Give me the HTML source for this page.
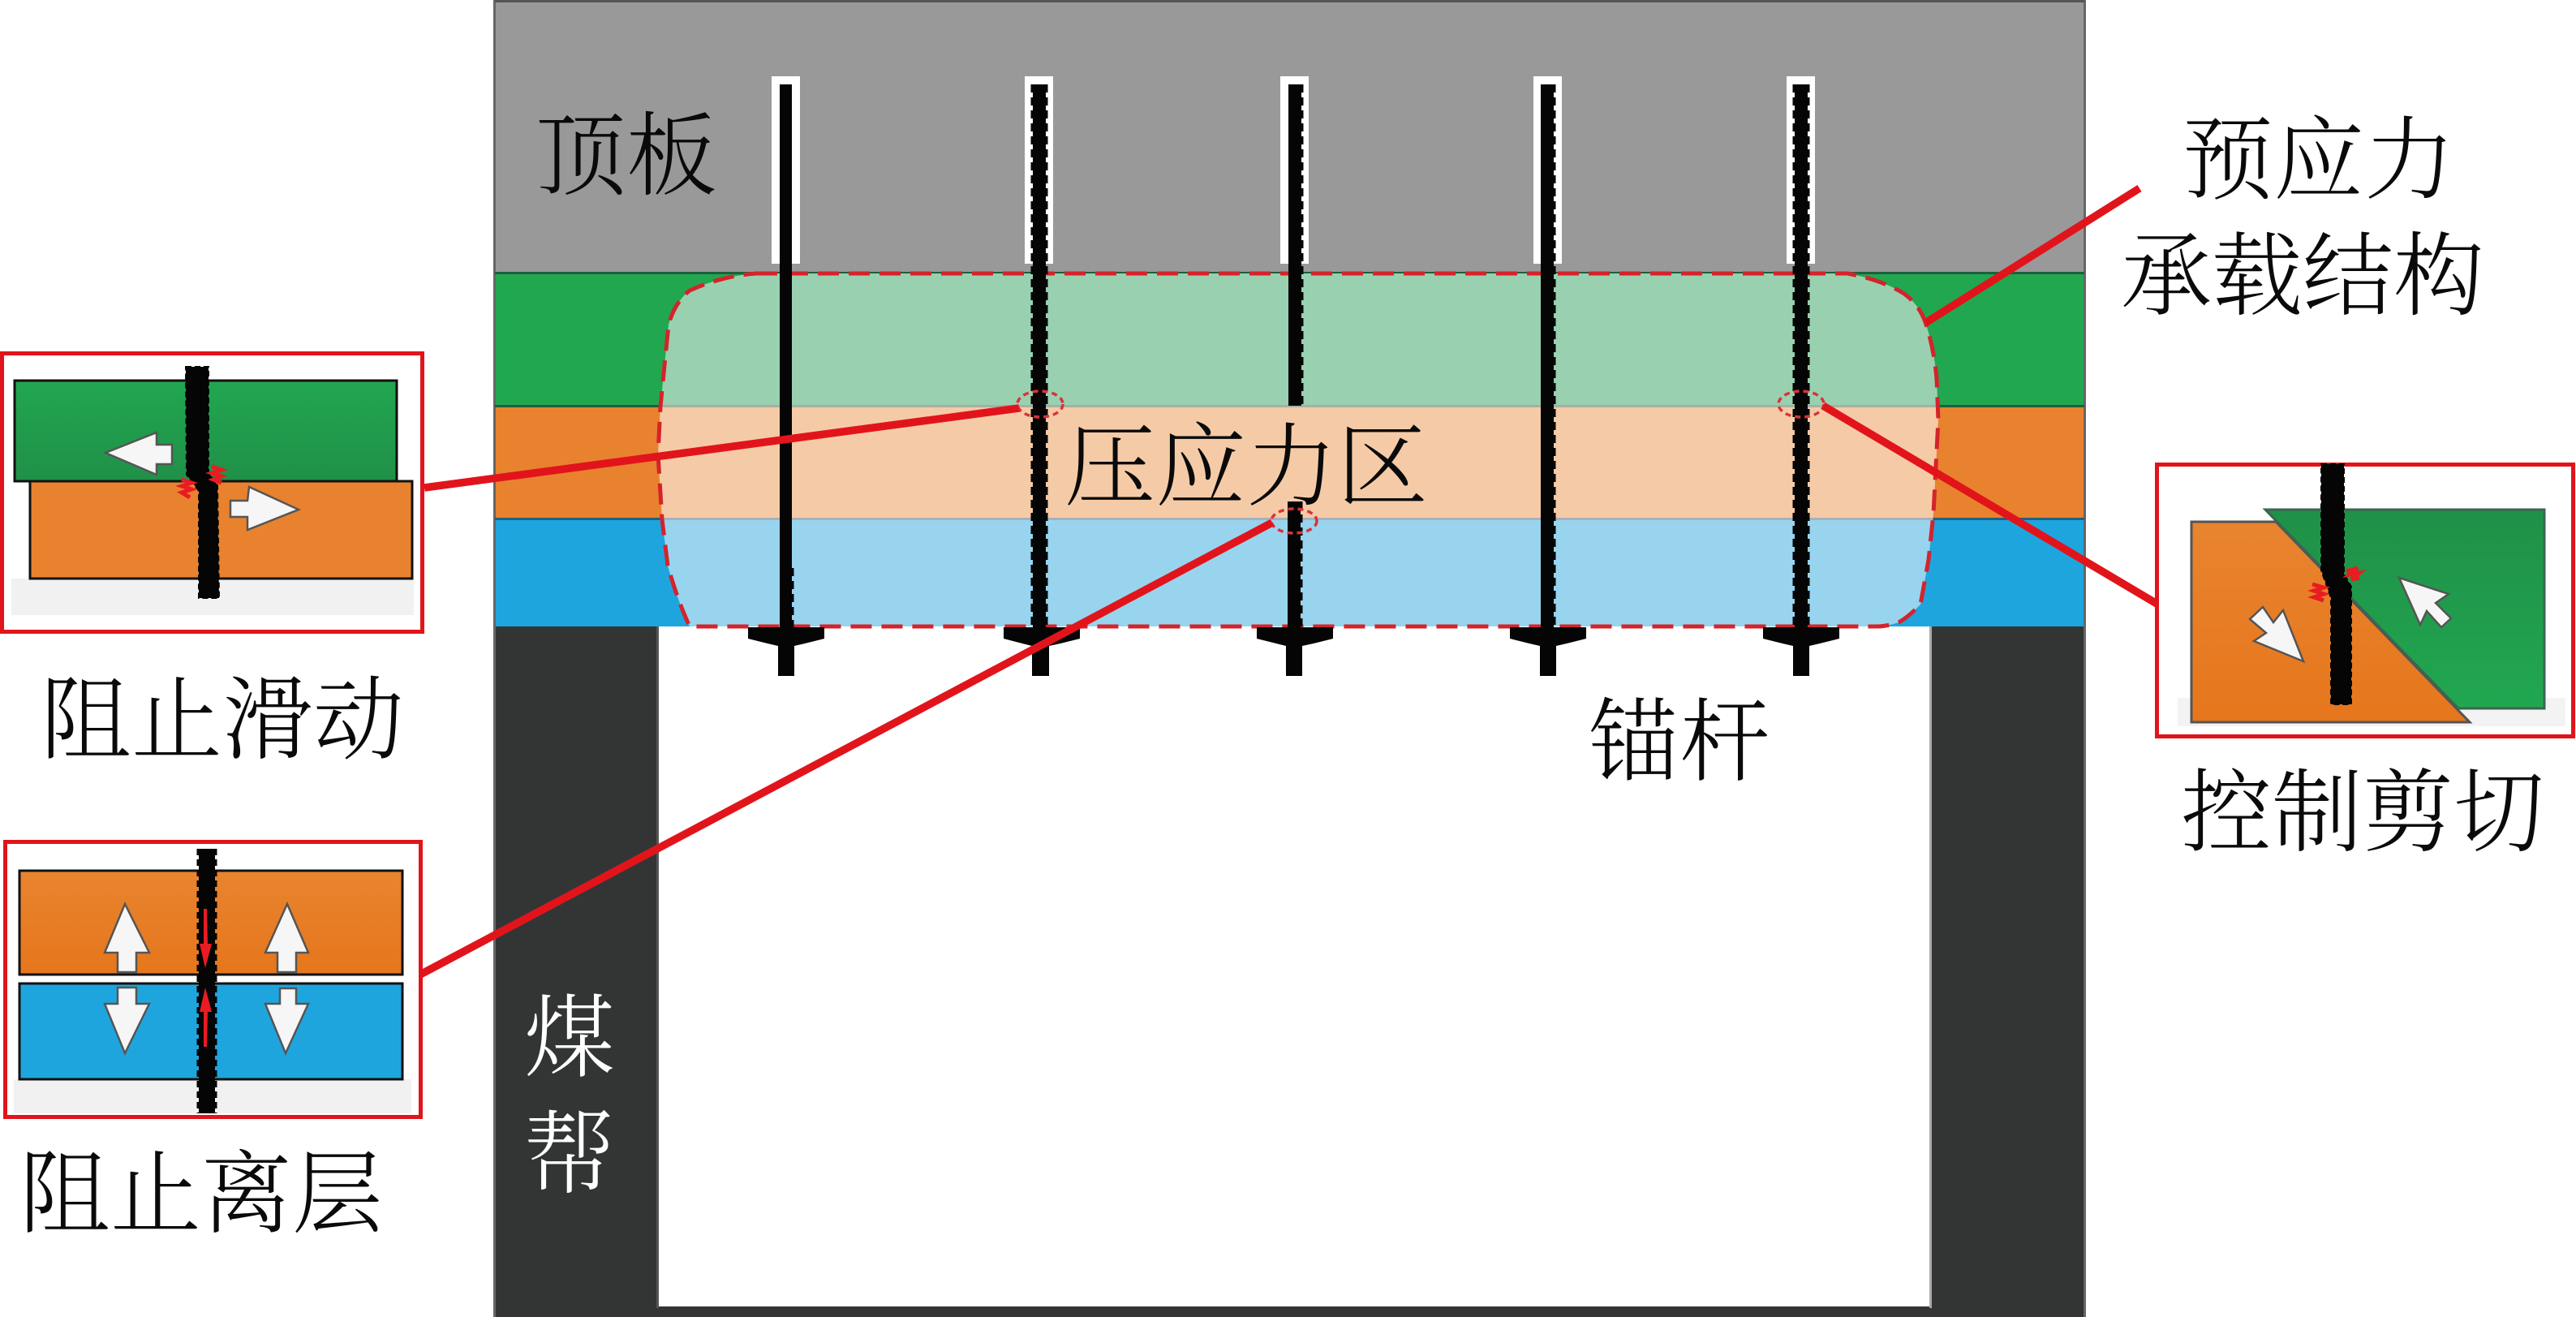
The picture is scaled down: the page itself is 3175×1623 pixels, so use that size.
<!DOCTYPE html>
<html lang="zh"><head><meta charset="utf-8"><title>预应力承载结构</title>
<style>
html,body{margin:0;padding:0;background:#fff}
svg{display:block}
text{font-family:"Liberation Serif","Noto Serif CJK SC",serif;font-size:112px;font-weight:300;fill:#0a0a0a}
</style></head><body>
<svg xmlns="http://www.w3.org/2000/svg" width="3175" height="1623" viewBox="0 0 3175 1623">
<defs>
<linearGradient id="gg" x1="0" y1="0" x2="0" y2="1"><stop offset="0" stop-color="#21a750"/><stop offset="1" stop-color="#209048"/></linearGradient>
<linearGradient id="gg2" x1="0" y1="0" x2="0" y2="1"><stop offset="0" stop-color="#209048"/><stop offset="1" stop-color="#21a750"/></linearGradient>
<linearGradient id="og" x1="0" y1="0" x2="0" y2="1"><stop offset="0" stop-color="#e8842f"/><stop offset="1" stop-color="#e6761c"/></linearGradient>
</defs>
<rect width="3175" height="1623" fill="#fff"/>
<!-- main layers -->
<rect x="610" y="0" width="1959" height="337" fill="#999"/>
<rect x="610" y="337" width="1959" height="164" fill="#21a750"/>
<rect x="610" y="501" width="1959" height="139" fill="#e8822e"/>
<rect x="610" y="640" width="1959" height="132" fill="#1fa5de"/>
<rect x="610" y="772" width="1959" height="851" fill="#333535"/>
<rect x="812" y="772" width="1566" height="838" fill="#fff"/>
<rect x="608" y="0" width="3" height="1623" fill="#666"/>
<rect x="2568" y="0" width="3" height="1623" fill="#666"/>
<rect x="610" y="0" width="1959" height="3" fill="#555"/>
<rect x="610" y="335" width="1959" height="3" fill="#1e5f3d"/>
<rect x="610" y="499" width="1959" height="3" fill="#1e5f3d"/>
<rect x="610" y="638" width="1959" height="3" fill="#23607f"/>
<rect x="2378" y="772" width="3" height="840" fill="#aaa"/>
<rect x="809" y="772" width="3" height="840" fill="#555"/>
<!-- slots -->
<g fill="#fff">
<rect x="951" y="94" width="35" height="231"/>
<rect x="1263" y="94" width="35" height="231"/>
<rect x="1578" y="94" width="35" height="231"/>
<rect x="1890" y="94" width="35" height="231"/>
<rect x="2202" y="94" width="35" height="231"/>
</g>
<!-- stress zone -->
<clipPath id="zc"><path d="M932 337 L2277 337 Q2320 345 2347 362 Q2365 375 2373 397 Q2384 430 2387 467 L2389 517 L2383 633 L2377 690 L2367 745 Q2350 762 2340 767 Q2325 772 2313 772 L850 772 Q835 740 823 697 L816 640 L811 560 L814 501 L824 400 Q832 372 850 358 Q890 340 932 337 Z"/></clipPath>
<g clip-path="url(#zc)">
<rect x="800" y="337" width="1600" height="164" fill="#99d1b0"/>
<rect x="800" y="501" width="1600" height="139" fill="#f5cba7"/>
<rect x="800" y="640" width="1600" height="132" fill="#98d4ee"/>
<rect x="800" y="499" width="1600" height="3" fill="#a8b0a0"/>
<rect x="800" y="638" width="1600" height="3" fill="#a9b0b8"/>
</g>
<path d="M932 337 L2277 337 Q2320 345 2347 362 Q2365 375 2373 397 Q2384 430 2387 467 L2389 517 L2383 633 L2377 690 L2367 745 Q2350 762 2340 767 Q2325 772 2313 772 L850 772 Q835 740 823 697 L816 640 L811 560 L814 501 L824 400 Q832 372 850 358 Q890 340 932 337 Z" fill="none" stroke="#d5232b" stroke-width="5" stroke-dasharray="26 12"/>
<!-- bolts -->
<g fill="#050505">
<rect x="961" y="104" width="15" height="670"/>
<rect x="1273" y="104" width="16" height="670"/>
<rect x="1588" y="104" width="16" height="396"/><rect x="1587" y="618" width="16" height="156"/>
<rect x="1899" y="104" width="16" height="670"/>
<rect x="2212" y="104" width="16" height="670"/>
<path d="M922 773H1016V787L992 793 979 796V833H959V796L946 793 922 787Z"/>
<path d="M1237 773H1331V787L1307 793 1293 796V833H1272V796L1260 793 1237 787Z"/>
<path d="M1549 773H1643V787L1619 793 1605 796V833H1585V796L1573 793 1549 787Z"/>
<path d="M1861 773H1955V787L1931 793 1918 796V833H1898V796L1885 793 1861 787Z"/>
<path d="M2173 773H2267V787L2243 793 2230 796V833H2210V796L2197 793 2173 787Z"/>
</g>
<g stroke="#050505" stroke-width="3" stroke-dasharray="10 6" fill="none">
<path d="M977 700V774"/>
<path d="M1272 104V774M1290 104V774"/>
<path d="M1605 104V500M1604 618V774"/>
<path d="M1916 104V774"/>
<path d="M2211 104V774M2229 104V774"/>
</g>
<!-- callout ellipses -->
<g fill="none" stroke="#d8343a" stroke-width="3.5" stroke-dasharray="7 5">
<ellipse cx="1282" cy="498" rx="28" ry="16"/>
<ellipse cx="2220" cy="498" rx="28" ry="16"/>
<ellipse cx="1595" cy="642" rx="28" ry="15"/>
</g>
<!-- leaders -->
<g stroke="#e2141b" stroke-width="9.500" fill="none">
<path d="M523 601L1256 503"/>
<path d="M516 1202L1568 644"/>
<path d="M2247 500L2660 745"/>
<path d="M2373 398L2637 232"/>
</g>
<!-- inset 1: 阻止滑动 -->
<rect x="2.5" y="435.500" width="518" height="343" fill="#fff" stroke="#e2141b" stroke-width="5"/>
<rect x="14" y="713" width="496" height="45" fill="#f1f1f1"/>
<rect x="37" y="593" width="471" height="120" fill="#e8822e" stroke="#111" stroke-width="3"/>
<rect x="18" y="469" width="471" height="124" fill="url(#gg)" stroke="#111" stroke-width="3"/>
<path d="M229 452H257V582L268 598 270 737H245V605L230 585Z" fill="#050505" stroke="#050505" stroke-width="2" stroke-dasharray="7 4"/>
<path d="M130 558L193 533V548H212V572H193V585Z" fill="#f6f6f6" stroke="#555" stroke-width="2.500"/>
<path d="M368 628L307 600 305 617H284V637H305V653Z" fill="#f6f6f6" stroke="#555" stroke-width="2.500"/>
<g stroke="#e81c22" stroke-width="5" fill="none">
<path d="M224 591l12 4-12 4 12 4-12 4 10 6"/>
<path d="M261 575l12 4-12 4 12 4-10 4 10 4"/>
</g>
<!-- inset 2: 阻止离层 -->
<rect x="6.500" y="1037.500" width="512" height="339" fill="#fff" stroke="#e2141b" stroke-width="5"/>
<rect x="17" y="1330" width="490" height="42" fill="#f1f1f1"/>
<rect x="24" y="1073" width="472" height="128" fill="url(#og)" stroke="#111" stroke-width="3"/>
<rect x="24" y="1212" width="472" height="118" fill="#1fa5de" stroke="#111" stroke-width="3"/>
<rect x="245" y="1046" width="20" height="326" fill="#050505"/>
<path d="M244 1046V1372M266 1046V1372" stroke="#050505" stroke-width="3" stroke-dasharray="8 5" fill="none"/>
<g fill="#f6f6f6" stroke="#555" stroke-width="2.500">
<path d="M154 1114L184 1174H168V1198H145V1174H129Z"/>
<path d="M354 1114L380 1174H365V1198H342V1174H327Z"/>
<path d="M154 1298L184 1237H168V1217H145V1237H129Z"/>
<path d="M352 1298L380 1237H365V1218H345V1237H327Z"/>
</g>
<g fill="#e81c22">
<path d="M251 1120h4l1 43h5l-8 30-7-30h5z"/>
<path d="M251 1290h4l1-43h5l-8-30-7 30h5z"/>
</g>
<!-- inset 3: 控制剪切 -->
<rect x="2658.500" y="572.500" width="513" height="335" fill="#fff" stroke="#e2141b" stroke-width="5"/>
<path d="M2684 860H3162V895H2684Z" fill="#f3f3f3"/>
<path d="M2701 643H2805L3044 890H2701Z" fill="url(#og)" stroke="#555" stroke-width="3"/>
<path d="M2792 628H3136V873H3030Z" fill="url(#gg2)" stroke="#3c6650" stroke-width="3"/>
<path d="M2861 572H2889V707L2898 723V868H2873V737L2861 703Z" fill="#050505" stroke="#050505" stroke-width="2" stroke-dasharray="7 4"/>
<path d="M2839 815L2814 752 2802 767 2789 748 2773 763 2793 780 2778 790Z" fill="#f6f6f6" stroke="#555" stroke-width="2.500"/>
<path d="M2957 712L3018 732 3002 743 3021 762 3009 773 2991 753 2983 770Z" fill="#f6f6f6" stroke="#555" stroke-width="2.500"/>
<g stroke="#e81c22" stroke-width="5" fill="none">
<path d="M2850 720l14 4-12 4 12 4-12 4 12 4"/>
<path d="M2892 704l14-4-10 8 12-2-10 8 10-2"/>
</g>
<text x="660" y="231">顶板</text>
<text x="2690" y="236">预应力</text>
<text x="2614" y="379">承载结构</text>
<text x="1312" y="614">压应力区</text>
<text x="1958" y="953">锚杆</text>
<text x="50" y="926">阻止滑动</text>
<text x="2688" y="1040">控制剪切</text>
<text x="24" y="1510">阻止离层</text>
<text x="646" y="1318" style="fill:#fff">煤</text>
<text x="646" y="1461" style="fill:#fff">帮</text>
</svg>
</body></html>
